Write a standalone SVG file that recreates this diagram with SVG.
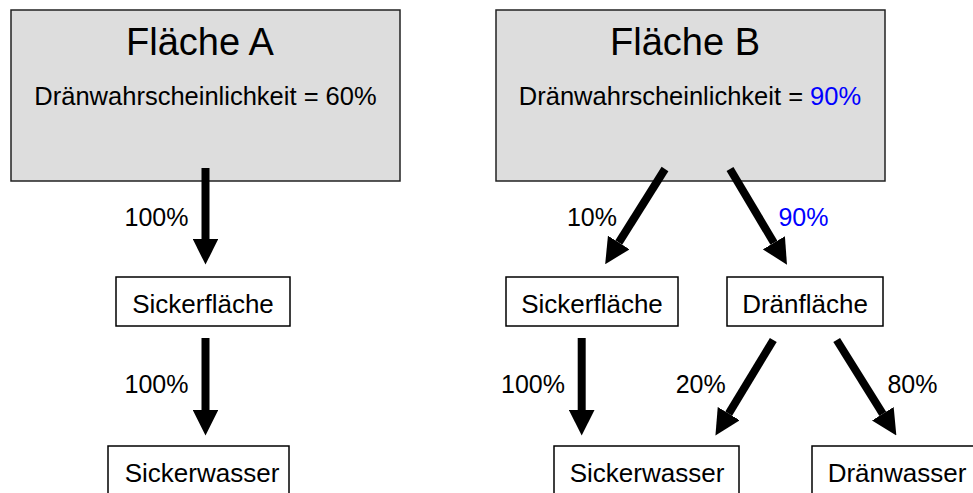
<svg xmlns="http://www.w3.org/2000/svg" width="973" height="493" viewBox="0 0 973 493">
  <style>
    text { font-family: "Liberation Sans", Arial, sans-serif; fill: #000; }
    .title { font-size: 38px; text-anchor: middle; }
    .sub { font-size: 25.5px; text-anchor: middle; }
    .lbl { font-size: 25px; text-anchor: middle; }
    .name { font-size: 26px; text-anchor: middle; }
    .blue { fill: #0000ff; }
    .area { fill: #dddddd; stroke: #222; stroke-width: 1.5; }
    .box { fill: #fff; stroke: #000; stroke-width: 1.5; }
    .arrow { stroke: #000; stroke-width: 8; fill: none; marker-end: url(#head); }
  </style>
  <defs>
    <marker id="head" viewBox="0 0 10 10" refX="0" refY="5" markerWidth="3.2" markerHeight="3.2" orient="auto">
      <path d="M0,0 L10,5 L0,10 z" fill="#000"/>
    </marker>
  </defs>
  <rect width="973" height="493" fill="#fff"/>

  <g id="flaeche-a">
    <rect class="area" x="11" y="10" width="389" height="171"/>
    <text class="title" x="200" y="55">Fläche A</text>
    <text class="sub" x="205.5" y="105">Dränwahrscheinlichkeit = 60%</text>
  </g>
  <g id="flaeche-b">
    <rect class="area" x="496" y="10" width="389" height="171"/>
    <text class="title" x="685" y="55">Fläche B</text>
    <text class="sub" x="690" y="105">Dränwahrscheinlichkeit = <tspan class="blue">90%</tspan></text>
  </g>

  <g id="connectors">
    <line class="arrow" x1="205.5" y1="168" x2="205.5" y2="239"/>
    <line class="arrow" x1="205.5" y1="338" x2="205.5" y2="410"/>
    <line class="arrow" x1="665" y1="169" x2="618.8" y2="242.5"/>
    <line class="arrow" x1="730" y1="169" x2="773.9" y2="242.8"/>
    <line class="arrow" x1="581.7" y1="338" x2="581.7" y2="410"/>
    <line class="arrow" x1="773.3" y1="340" x2="728.7" y2="413.6"/>
    <line class="arrow" x1="836.7" y1="340" x2="882.8" y2="413.8"/>
    <text class="lbl" x="156.5" y="226">100%</text>
    <text class="lbl" x="156.5" y="393">100%</text>
    <text class="lbl" x="592" y="226">10%</text>
    <text class="lbl blue" x="803.5" y="226">90%</text>
    <text class="lbl" x="533" y="393">100%</text>
    <text class="lbl" x="700.7" y="393">20%</text>
    <text class="lbl" x="912.5" y="393">80%</text>
  </g>

  <g id="sickerflaeche-a">
    <rect class="box" x="116" y="277" width="174" height="49"/>
    <text class="name" x="203" y="313">Sickerfläche</text>
  </g>
  <g id="sickerwasser-a">
    <rect class="box" x="108" y="446" width="181" height="80"/>
    <text class="name" x="202" y="482">Sickerwasser</text>
  </g>
  <g id="sickerflaeche-b">
    <rect class="box" x="506" y="277" width="172" height="49"/>
    <text class="name" x="592" y="313">Sickerfläche</text>
  </g>
  <g id="draenflaeche">
    <rect class="box" x="727" y="277" width="156" height="49"/>
    <text class="name" x="805" y="313">Dränfläche</text>
  </g>
  <g id="sickerwasser-b">
    <rect class="box" x="554" y="446" width="185" height="80"/>
    <text class="name" x="647" y="482">Sickerwasser</text>
  </g>
  <g id="draenwasser">
    <rect class="box" x="812" y="446" width="180" height="80"/>
    <text class="name" x="897" y="482">Dränwasser</text>
  </g>
</svg>
